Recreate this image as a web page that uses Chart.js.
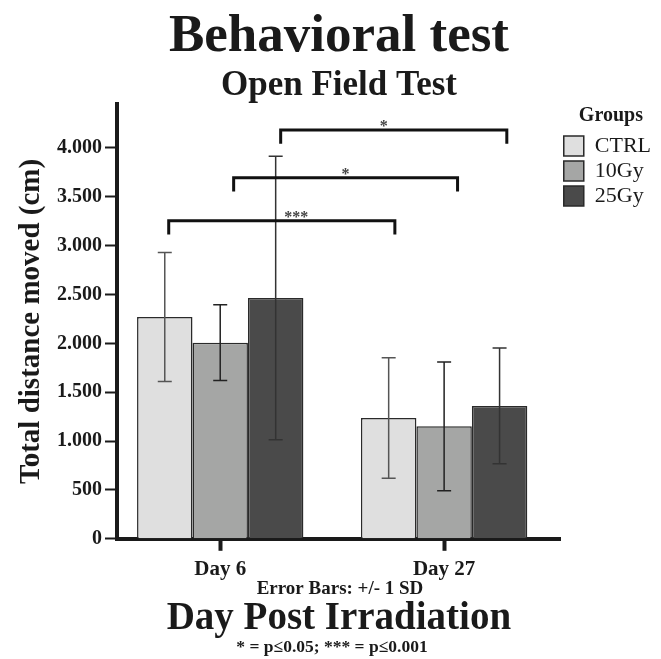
<!DOCTYPE html>
<html>
<head>
<meta charset="utf-8">
<script src="https://cdn.jsdelivr.net/npm/chart.js@4.4.1/dist/chart.umd.min.js"></script>
<style>
  html, body { margin: 0; padding: 0; background: #fff; }
  #wrap { width: 661px; height: 659px; }
</style>
</head>
<body>
<div id="wrap"><canvas id="chart"></canvas></div>
<script>
// data
const categories = ['Day 6', 'Day 27'];
const catPos = [0, 1];
const groups = ['CTRL', '10Gy', '25Gy'];
const ctrlMean = [2270, 1237];
const ctrlSd = [660, 617];
const gy10Mean = [2007, 1151];
const gy10Sd = [388, 658];
const gy25Mean = [2465, 1360];
const gy25Sd = [1450, 592];
const yTicks = [0, 500, 1000, 1500, 2000, 2500, 3000, 3500, 4000];

// significance brackets (x in category units, y in cm)
const sigFrom = [-0.23, 0.06, 0.27];
const sigTo = [0.78, 1.06, 1.28];
const sigY = [3255, 3694, 4184];
const sigLabel = ['***', '*', '*'];
const sigLabelX = [0.34, 0.56, 0.73];

const FONT = "'Liberation Serif', 'Times New Roman', serif";
const INK = '#1a1a1a';

const fmt = v => String(v).replace(/\B(?=(\d{3})+(?!\d))/g, '.');
const pts = means => means.map((m, i) => ({ x: catPos[i], y: m }));

const errorBars = {
  id: 'errorBars',
  afterDatasetsDraw(chart) {
    const { ctx } = chart;
    const y = chart.scales.y;
    ctx.save();
    chart.data.datasets.forEach((ds, i) => {
      chart.getDatasetMeta(i).data.forEach((bar, j) => {
        const m = ds.data[j].y, sd = ds.sd[j];
        const top = y.getPixelForValue(m + sd);
        const bot = y.getPixelForValue(m - sd);
        ctx.strokeStyle = ds.errColor;
        ctx.lineWidth = 1.5;
        ctx.beginPath();
        ctx.moveTo(bar.x, top); ctx.lineTo(bar.x, bot);
        ctx.moveTo(bar.x - 7, top); ctx.lineTo(bar.x + 7, top);
        ctx.moveTo(bar.x - 7, bot); ctx.lineTo(bar.x + 7, bot);
        ctx.stroke();
      });
    });
    ctx.restore();
  }
};

const brackets = {
  id: 'brackets',
  afterDatasetsDraw(chart) {
    const { ctx } = chart;
    const { x, y } = chart.scales;
    ctx.save();
    ctx.strokeStyle = '#111';
    ctx.lineWidth = 3;
    sigY.forEach((v, i) => {
      const x0 = x.getPixelForValue(sigFrom[i]);
      const x1 = x.getPixelForValue(sigTo[i]);
      const yy = y.getPixelForValue(v);
      const leg = y.getPixelForValue(v - 140);
      ctx.beginPath();
      ctx.moveTo(x0, leg); ctx.lineTo(x0, yy); ctx.lineTo(x1, yy); ctx.lineTo(x1, leg);
      ctx.stroke();
      ctx.fillStyle = '#444';
      ctx.font = 'bold 16px ' + FONT;
      ctx.textAlign = 'center';
      ctx.textBaseline = 'alphabetic';
      ctx.fillText(sigLabel[i], x.getPixelForValue(sigLabelX[i]), yy + 1);
    });
    ctx.restore();
  }
};

const notes = {
  id: 'notes',
  afterDraw(chart) {
    const { ctx } = chart;
    ctx.save();
    ctx.fillStyle = INK;
    ctx.textAlign = 'center';
    ctx.textBaseline = 'middle';
    ctx.font = 'bold 19px ' + FONT;
    ctx.fillText('Error Bars: +/- 1 SD', 340, 589);
    ctx.font = 'bold 17.5px ' + FONT;
    ctx.fillText('* = p\u22640.05; *** = p\u22640.001', 332, 647);
    ctx.restore();
  }
};

new Chart(document.getElementById('chart'), {
  type: 'bar',
  data: {
    datasets: [
      { label: groups[0], data: pts(ctrlMean), sd: ctrlSd, backgroundColor: '#dfdfdf', borderColor: '#2a2a2a', borderWidth: 1.5, errColor: '#555' },
      { label: groups[1], data: pts(gy10Mean), sd: gy10Sd, backgroundColor: '#a5a6a5', borderColor: '#2a2a2a', borderWidth: 1.5, errColor: '#222' },
      { label: groups[2], data: pts(gy25Mean), sd: gy25Sd, backgroundColor: '#4a4a4a', borderColor: '#2a2a2a', borderWidth: 1.5, errColor: '#333' },
    ],
  },
  options: {
    responsive: true,
    maintainAspectRatio: false,
    animation: false,
    categoryPercentage: 0.743,
    barPercentage: 1,
    layout: { padding: { left: 17, right: 0, top: 0, bottom: 12 } },
    scales: {
      x: {
        type: 'linear', min: -0.461, max: 1.521, offset: false, z: 1,
        afterBuildTicks: s => { s.ticks = catPos.map(v => ({ value: v })); },
        ticks: {
          callback: (v, i) => categories[i],
          font: { family: FONT, size: 21, weight: 'bold' }, color: INK,
          padding: 6, autoSkip: false, maxRotation: 0,
        },
        grid: { offset: false, drawOnChartArea: false, tickLength: 12, tickWidth: 4, tickColor: INK },
        border: { color: INK, width: 4 },
        title: {
          display: true, text: 'Day Post Irradiation', color: INK,
          font: { family: FONT, size: 39, weight: 'bold', lineHeight: 1 },
          padding: { top: 11, bottom: 9 },
        },
      },
      y: {
        min: 0, max: 4450, z: 1,
        afterBuildTicks: s => { s.ticks = yTicks.map(v => ({ value: v })); },
        ticks: {
          callback: v => fmt(v),
          font: { family: FONT, size: 20, weight: 'bold' }, color: INK, padding: 3,
        },
        grid: { drawOnChartArea: false, tickLength: 12, tickWidth: 2, tickColor: INK },
        border: { color: INK, width: 4 },
        title: {
          display: true, text: 'Total distance moved (cm)', color: INK,
          font: { family: FONT, size: 29, weight: 'bold', lineHeight: 1 },
          padding: { top: 0, bottom: 8 },
        },
      },
    },
    plugins: {
      title: {
        display: true, text: 'Behavioral test', color: INK,
        font: { family: FONT, size: 53, weight: 'bold', lineHeight: 1 },
        padding: { top: 11, bottom: 4 },
      },
      subtitle: {
        display: true, text: 'Open Field Test', color: INK,
        font: { family: FONT, size: 35, weight: 'bold', lineHeight: 1 },
        padding: { top: 0, bottom: 1 },
      },
      legend: {
        position: 'right', align: 'start', fullSize: false,
        title: {
          display: true, text: 'Groups', color: INK,
          font: { family: FONT, size: 20, weight: 'bold' },
          padding: { top: 2, bottom: 2 },
        },
        labels: {
          boxWidth: 20, boxHeight: 20, padding: 3, color: INK,
          font: { family: FONT, size: 22 },
        },
      },
      tooltip: { enabled: false },
    },
  },
  plugins: [errorBars, brackets, notes],
});
</script>
</body>
</html>
